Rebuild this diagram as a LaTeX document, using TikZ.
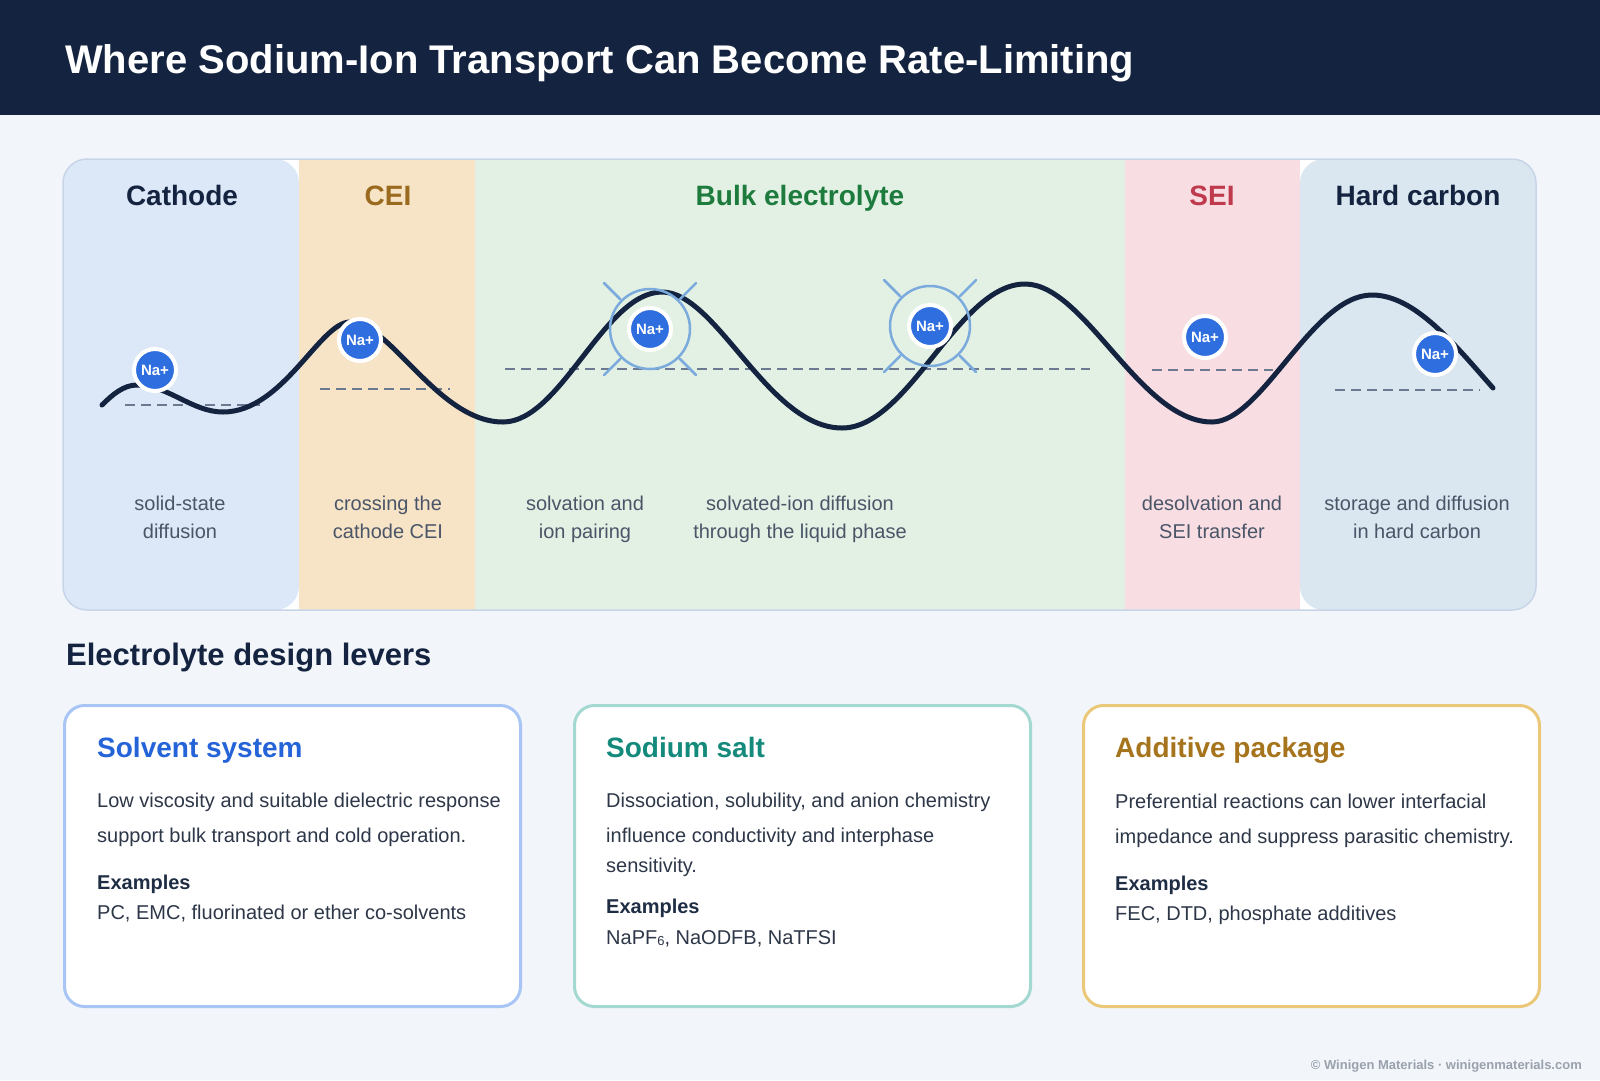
\documentclass[tikz,border=0pt]{standalone}
\usepackage{fontspec}
\setmainfont{Liberation Sans}
\definecolor{pagebg}{HTML}{F2F6FB}
\definecolor{headerbg}{HTML}{14233F}
\definecolor{navy}{HTML}{14233F}
\definecolor{panelborder}{HTML}{C8D5E8}
\definecolor{cathodefill}{HTML}{DCE8F7}
\definecolor{ceifill}{HTML}{F7E4C7}
\definecolor{bulkfill}{HTML}{E3F1E5}
\definecolor{seifill}{HTML}{F8DEE3}
\definecolor{hcfill}{HTML}{DAE7F0}
\definecolor{ceitext}{HTML}{9A6A1F}
\definecolor{bulktext}{HTML}{1E7B3E}
\definecolor{seitext}{HTML}{C03A4E}
\definecolor{subtext}{HTML}{4A5568}
\definecolor{dashgray}{HTML}{6B7A90}
\definecolor{ionblue}{HTML}{2F6EDF}
\definecolor{shellblue}{HTML}{7BAADC}
\definecolor{cardoneborder}{HTML}{A8C5F6}
\definecolor{cardtwoborder}{HTML}{A3D9D1}
\definecolor{cardthreeborder}{HTML}{EBC877}
\definecolor{cardonetitle}{HTML}{2563D8}
\definecolor{cardtwotitle}{HTML}{138A7B}
\definecolor{cardthreetitle}{HTML}{A6741C}
\definecolor{bodytext}{HTML}{2D3748}
\definecolor{extext}{HTML}{1F2D44}
\definecolor{footertext}{HTML}{9AA1AD}
\begin{document}
\begin{tikzpicture}[x=1pt,y=-1pt,
  titletext/.style={anchor=base west, inner sep=0pt, text=white, font=\bfseries\fontsize{40}{48}\selectfont},
  toplabel/.style={anchor=base, inner sep=0pt, font=\bfseries\fontsize{28}{34}\selectfont},
  sublabel/.style={anchor=base, inner sep=0pt, text=subtext, font=\fontsize{20}{24}\selectfont},
  levelline/.style={draw=dashgray, line width=2pt, dash pattern=on 10pt off 6pt},
  energycurve/.style={draw=navy, line width=5pt, line cap=round},
  ion/.style={circle, fill=ionblue, draw=white, line width=4pt, minimum size=42pt, inner sep=0pt, text=white, font=\bfseries\fontsize{15}{18}\selectfont},
  shell/.style={circle, draw=shellblue, line width=2.5pt, minimum size=80pt, inner sep=0pt},
  ray/.style={draw=shellblue, line width=2.5pt, line cap=round},
  card/.style={draw=#1, fill=white, line width=3pt, rounded corners=20pt, minimum width=456pt, minimum height=301pt, anchor=north west, inner sep=0pt},
  cardtitle/.style={anchor=base west, inner sep=0pt, font=\bfseries\fontsize{28}{34}\selectfont, text=#1},
  bodyline/.style={anchor=base west, inner sep=0pt, font=\fontsize{20}{24}\selectfont, text=bodytext},
  exhead/.style={anchor=base west, inner sep=0pt, font=\bfseries\fontsize{20}{24}\selectfont, text=extext}
]
\useasboundingbox (0,0) rectangle (1600,1080);
\fill[pagebg] (0,0) rectangle (1600,1080);
\fill[headerbg] (0,0) rectangle (1600,115);
\node[titletext] (title) at (65,73) {Where Sodium-Ion Transport Can Become Rate-Limiting};

% panel and regions
\fill[white, rounded corners=24pt] (63,159) rectangle (1536,610);
\fill[cathodefill, rounded corners=24pt] (63,159) rectangle (299,610);
\fill[ceifill] (299,159) rectangle (475,610);
\fill[bulkfill] (475,159) rectangle (1125,610);
\fill[seifill] (1125,159) rectangle (1300,610);
\fill[hcfill, rounded corners=24pt] (1300,159) rectangle (1536,610);
\draw[panelborder, line width=1.5pt, rounded corners=24pt] (63,159) rectangle (1536,610);

% region titles
\node[toplabel, text=navy] (tcathode) at (182,205) {Cathode};
\node[toplabel, text=ceitext] (tcei) at (388,205) {CEI};
\node[toplabel, text=bulktext] (tbulk) at (800,205) {Bulk electrolyte};
\node[toplabel, text=seitext] (tsei) at (1212,205) {SEI};
\node[toplabel, text=navy] (thc) at (1418,205) {Hard carbon};

% region descriptions
\node[sublabel] (s1a) at (180,510) {solid-state};
\node[sublabel] (s1b) at (180,538) {diffusion};
\node[sublabel] (s2a) at (388,510) {crossing the};
\node[sublabel] (s2b) at (388,538) {cathode CEI};
\node[sublabel] (s3a) at (585,510) {solvation and};
\node[sublabel] (s3b) at (585,538) {ion pairing};
\node[sublabel] (s4a) at (800,510) {solvated-ion diffusion};
\node[sublabel] (s4b) at (800,538) {through the liquid phase};
\node[sublabel] (s5a) at (1212,510) {desolvation and};
\node[sublabel] (s5b) at (1212,538) {SEI transfer};
\node[sublabel] (s6a) at (1417,510) {storage and diffusion};
\node[sublabel] (s6b) at (1417,538) {in hard carbon};

% reference levels
\draw[levelline] (125,405) -- (260,405);
\draw[levelline] (320,389) -- (450,389);
\draw[levelline] (505,369) -- (1090,369);
\draw[levelline] (1152,370) -- (1273,370);
\draw[levelline] (1335,390) -- (1480,390);

% energy landscape
\draw[energycurve] (102,405) .. controls (113,394) and (124,385) .. (137,385)
  .. controls (168,385) and (192,412) .. (223,412)
  .. controls (283,412) and (320,322) .. (350,322)
  .. controls (390,322) and (438,422) .. (503,422)
  .. controls (561,422) and (604,292) .. (662,292)
  .. controls (717,292) and (768,428) .. (842,428)
  .. controls (909,428) and (958,284) .. (1025,284)
  .. controls (1085,284) and (1140,422) .. (1212,422)
  .. controls (1262,422) and (1312,295) .. (1372,295)
  .. controls (1415,295) and (1455,345) .. (1493,388);

% solvation shells
\node[shell] (shA) at (650,329) {};
\node[shell] (shB) at (930,326) {};
\foreach \s in {shA,shB}{
  \foreach \a in {45,135,225,315}{
    \draw[ray] (\s.center) ++(\a:42) -- ++(\a:23);
  }
}

% ions
\node[ion] (na1) at (155,370) {Na+};
\node[ion] (na2) at (360,340) {Na+};
\node[ion] (na3) at (650,329) {Na+};
\node[ion] (na4) at (930,326) {Na+};
\node[ion] (na5) at (1205,337) {Na+};
\node[ion] (na6) at (1435,354) {Na+};

% section heading
\node[anchor=base west, inner sep=0pt, text=navy, font=\bfseries\fontsize{31}{37}\selectfont] (levers) at (66,665) {Electrolyte design levers};

% cards
\node[card=cardoneborder] (card1) at (63,704) {};
\node[card=cardtwoborder] (card2) at (573,704) {};
\node[card=cardthreeborder] (card3) at (1082,704) {};

\node[cardtitle=cardonetitle] (c1t) at (97,757) {Solvent system};
\node[bodyline] (c1l1) at (97,807) {Low viscosity and suitable dielectric response};
\node[bodyline] (c1l2) at (97,842) {support bulk transport and cold operation.};
\node[exhead] (c1e) at (97,889) {Examples};
\node[bodyline] (c1x) at (97,919) {PC, EMC, fluorinated or ether co-solvents};

\node[cardtitle=cardtwotitle] (c2t) at (606,757) {Sodium salt};
\node[bodyline] (c2l1) at (606,807) {Dissociation, solubility, and anion chemistry};
\node[bodyline] (c2l2) at (606,842) {influence conductivity and interphase};
\node[bodyline] (c2l3) at (606,872) {sensitivity.};
\node[exhead] (c2e) at (606,913) {Examples};
\node[bodyline] (c2x) at (606,944) {NaPF\raisebox{-1.5pt}{\fontsize{13}{13}\selectfont 6}, NaODFB, NaTFSI};

\node[cardtitle=cardthreetitle] (c3t) at (1115,757) {Additive package};
\node[bodyline] (c3l1) at (1115,808) {Preferential reactions can lower interfacial};
\node[bodyline] (c3l2) at (1115,843) {impedance and suppress parasitic chemistry.};
\node[exhead] (c3e) at (1115,890) {Examples};
\node[bodyline] (c3x) at (1115,920) {FEC, DTD, phosphate additives};

% footer
\node[anchor=base east, inner sep=0pt, text=footertext, font=\bfseries\fontsize{13}{16}\selectfont] (footer) at (1582,1069) {© Winigen Materials · winigenmaterials.com};
\end{tikzpicture}
\end{document}
